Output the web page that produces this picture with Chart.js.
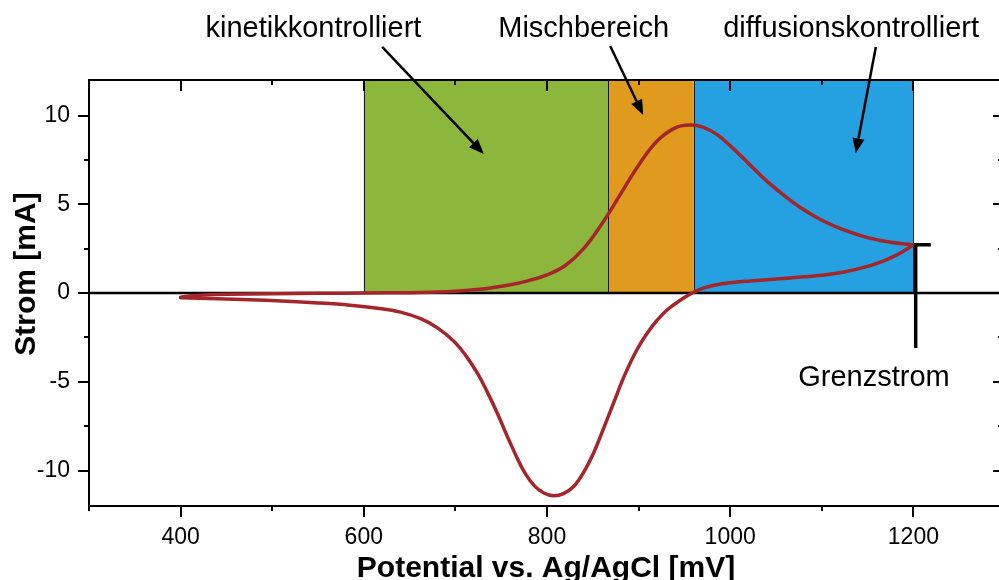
<!DOCTYPE html>
<html>
<head>
<meta charset="utf-8">
<script src="https://cdn.jsdelivr.net/npm/chart.js@4.4.1/dist/chart.umd.min.js"></script>
<style>
  html, body { margin: 0; padding: 0; overflow: hidden; background: #fff; width: 999px; height: 580px; }
  canvas { display: block; }
</style>
</head>
<body>
<canvas id="cv" width="1010" height="580"></canvas>
<script>
// Cyclic voltammogram: forward scan 400 -> 1200 mV, reverse scan 1200 -> 400 mV
const forwardPotential = [400, 410, 425, 450, 500, 550, 600, 650, 680, 700, 720, 740, 760, 780, 800, 820, 840, 860, 880, 900, 920, 940, 956, 970, 985, 1000, 1020, 1040, 1060, 1080, 1100, 1124, 1150, 1175, 1200];
const forwardCurrent   = [-0.24, -0.17, -0.11, -0.07, -0.04, -0.02, 0.0, 0.02, 0.05, 0.1, 0.18, 0.3, 0.46, 0.7, 1.02, 1.55, 2.5, 3.9, 5.55, 7.2, 8.55, 9.3, 9.46, 9.35, 8.95, 8.3, 7.3, 6.3, 5.45, 4.7, 4.1, 3.55, 3.12, 2.86, 2.72];

const reversePotential = [1200, 1192, 1182, 1167, 1150, 1124, 1100, 1080, 1050, 1022, 1000, 985, 972, 960, 945, 931, 920, 910, 898, 885, 873, 862, 851, 840, 829, 818, 807, 796, 786, 776, 767, 756, 746, 735, 724, 711, 698, 680, 662, 640, 615, 585, 550, 510, 476, 440, 400];
const reverseCurrent   = [2.72, 2.45, 2.15, 1.8, 1.5, 1.18, 1.0, 0.91, 0.79, 0.68, 0.58, 0.47, 0.3, 0.04, -0.42, -0.96, -1.55, -2.22, -3.21, -4.6, -6.15, -7.6, -9.0, -10.1, -10.9, -11.3, -11.42, -11.25, -10.85, -10.15, -9.25, -8.0, -6.8, -5.6, -4.52, -3.5, -2.7, -1.95, -1.45, -1.08, -0.86, -0.69, -0.56, -0.45, -0.38, -0.32, -0.27];

// Axis ticks
const xTickValues = [400, 600, 800, 1000, 1200];
const xMinorStep = 100;
const yTickValues = [-10, -5, 0, 5, 10];
const yMinorStep = 2.5;

// Potential ranges of the three regimes (mV)
const regionStart = [600, 867, 960];
const regionEnd   = [867, 960, 1200];
const regionNames = ['kinetikkontrolliert', 'Mischbereich', 'diffusionskontrolliert'];
const limitLabel = 'Grenzstrom';

// Styling
const FONT = "'Liberation Sans', Arial, Helvetica, sans-serif";
const regionFill = ['#8DB63D', '#E09B1E', '#25A0E0'];
const regionEdge = ['#1a1a1a', '#1a1a1a', '#1a1a1a'];
const curveColor = '#A5262A';

// Annotation layout in data units (mV, mA)
const notes = [
  { text: regionNames[0], at: [545, 14.42], from: [620, 13.86], to: [731, 7.83] },
  { text: regionNames[1], at: [840, 14.42], from: [869, 13.92], to: [905, 10.03] },
  { text: regionNames[2], at: [1132, 14.42], from: [1159, 13.86], to: [1137, 7.87] }
];
const limitNote = { at: [1157, -5.24], xFrom: 1201, xTo: 1219, drop: -3.1, stemX: 1202.5 };

function toPoints(xs, ys) { return xs.map((x, i) => ({ x: x, y: ys[i] })); }

function arrow(ctx, x0, y0, x1, y1) {
  const ang = Math.atan2(y1 - y0, x1 - x0);
  const head = 15, half = 6;
  const bx = x1 - head * Math.cos(ang), by = y1 - head * Math.sin(ang);
  ctx.beginPath();
  ctx.moveTo(x0, y0);
  ctx.lineTo(bx, by);
  ctx.stroke();
  ctx.beginPath();
  ctx.moveTo(x1, y1);
  ctx.lineTo(bx + half * Math.sin(ang), by - half * Math.cos(ang));
  ctx.lineTo(bx - half * Math.sin(ang), by + half * Math.cos(ang));
  ctx.closePath();
  ctx.fill();
}

const decor = {
  id: 'decor',
  beforeDatasetsDraw(chart) {
    const { ctx, scales: { x, y } } = chart;
    ctx.save();
    // regime bands from 0 mA up to the top of the plot
    for (let i = 0; i < regionStart.length; i++) {
      const l = x.getPixelForValue(regionStart[i]);
      const r = x.getPixelForValue(regionEnd[i]);
      const t = y.getPixelForValue(y.max);
      const b = y.getPixelForValue(0);
      ctx.fillStyle = regionFill[i];
      ctx.fillRect(l, t, r - l, b - t);
      ctx.strokeStyle = regionEdge[i];
      ctx.lineWidth = 1;
      ctx.beginPath();
      ctx.moveTo(Math.round(l) + 0.5, t); ctx.lineTo(Math.round(l) + 0.5, b);
      ctx.moveTo(Math.round(r) + 0.5, t); ctx.lineTo(Math.round(r) + 0.5, b);
      ctx.stroke();
    }
    // zero current line
    ctx.strokeStyle = '#000';
    ctx.lineWidth = 2.5;
    ctx.beginPath();
    ctx.moveTo(x.left, y.getPixelForValue(0));
    ctx.lineTo(x.right, y.getPixelForValue(0));
    ctx.stroke();
    ctx.restore();
  },
  afterDatasetsDraw(chart) {
    const { ctx, chartArea: a, scales: { x, y } } = chart;
    ctx.save();
    ctx.strokeStyle = '#000';
    ctx.fillStyle = '#000';
    // frame
    ctx.lineWidth = 2;
    ctx.strokeRect(a.left, a.top, a.right - a.left, a.bottom - a.top);
    // x ticks: outward at the bottom, inward at the top
    ctx.beginPath();
    for (let v = x.min; v <= x.max + 1e-6; v += xMinorStep) {
      const px = Math.round(x.getPixelForValue(v));
      const major = xTickValues.includes(v);
      const len = major ? 11 : 5;
      ctx.moveTo(px, a.bottom); ctx.lineTo(px, a.bottom + len);
      ctx.moveTo(px, a.top); ctx.lineTo(px, a.top + len);
    }
    // y ticks: outward on the left, inward on the right
    for (let v = yTickValues[0]; v <= yTickValues[yTickValues.length - 1] + 1e-6; v += yMinorStep) {
      const py = Math.round(y.getPixelForValue(v));
      const major = yTickValues.includes(v);
      ctx.moveTo(a.left - (major ? 11 : 5), py); ctx.lineTo(a.left, py);
      ctx.moveTo(a.right - (major ? 12 : 7), py); ctx.lineTo(a.right, py);
    }
    ctx.stroke();

    // regime labels with arrows
    ctx.font = '29px ' + FONT;
    ctx.textAlign = 'center';
    ctx.textBaseline = 'alphabetic';
    ctx.lineWidth = 2.5;
    notes.forEach(n => {
      ctx.fillText(n.text, x.getPixelForValue(n.at[0]), y.getPixelForValue(n.at[1]));
      arrow(ctx, x.getPixelForValue(n.from[0]), y.getPixelForValue(n.from[1]),
                 x.getPixelForValue(n.to[0]), y.getPixelForValue(n.to[1]));
    });

    // limiting current marker
    const limit = forwardCurrent[forwardCurrent.length - 1];
    const ly = y.getPixelForValue(limit);
    const sx = x.getPixelForValue(limitNote.stemX);
    ctx.lineWidth = 3.5;
    ctx.lineCap = 'butt';
    ctx.beginPath();
    ctx.moveTo(x.getPixelForValue(limitNote.xFrom), ly);
    ctx.lineTo(x.getPixelForValue(limitNote.xTo), ly);
    ctx.moveTo(sx, ly - 1.75);
    ctx.lineTo(sx, y.getPixelForValue(limitNote.drop));
    ctx.stroke();
    ctx.fillText(limitLabel, x.getPixelForValue(limitNote.at[0]), y.getPixelForValue(limitNote.at[1]));

    // axis titles
    ctx.font = 'bold 30px ' + FONT;
    ctx.fillText('Potential vs. Ag/AgCl [mV]', (a.left + a.right) / 2 - 1, 577);
    ctx.translate(35, (a.top + a.bottom) / 2 - 19);
    ctx.rotate(-Math.PI / 2);
    ctx.fillText('Strom [mA]', 0, 0);
    ctx.restore();
  }
};

Chart.defaults.font.family = FONT;
Chart.defaults.color = '#000';

new Chart(document.getElementById('cv'), {
  type: 'line',
  data: {
    datasets: [
      { label: 'Hinlauf', data: toPoints(forwardPotential, forwardCurrent) },
      { label: 'Rücklauf', data: toPoints(reversePotential, reverseCurrent) }
    ].map(d => Object.assign(d, {
      borderColor: curveColor,
      borderWidth: 3.5,
      pointRadius: 0,
      tension: 0.4,
      borderCapStyle: 'round',
      borderJoinStyle: 'round',
      fill: false
    }))
  },
  options: {
    responsive: false,
    animation: false,
    devicePixelRatio: 1,
    layout: { padding: { top: 80, right: 5, left: 0, bottom: 0 } },
    plugins: { legend: { display: false }, tooltip: { enabled: false } },
    scales: {
      x: {
        type: 'linear',
        min: 300, max: 1300,
        grid: { display: false, drawTicks: false },
        border: { display: false },
        ticks: { font: { size: 23 }, color: '#000', padding: 18, maxRotation: 0, autoSkip: false,
                 callback: v => String(v) },
        afterBuildTicks: s => { s.ticks = xTickValues.map(v => ({ value: v })); },
        afterFit: s => { s.height = 74; }
      },
      y: {
        type: 'linear',
        min: -12, max: 12,
        grid: { display: false, drawTicks: false },
        border: { display: false },
        ticks: { font: { size: 23 }, color: '#000', padding: 19, callback: v => String(v) },
        afterBuildTicks: s => { s.ticks = yTickValues.map(v => ({ value: v })); },
        afterFit: s => { s.width = 89; }
      }
    }
  },
  plugins: [decor]
});
</script>
</body>
</html>
